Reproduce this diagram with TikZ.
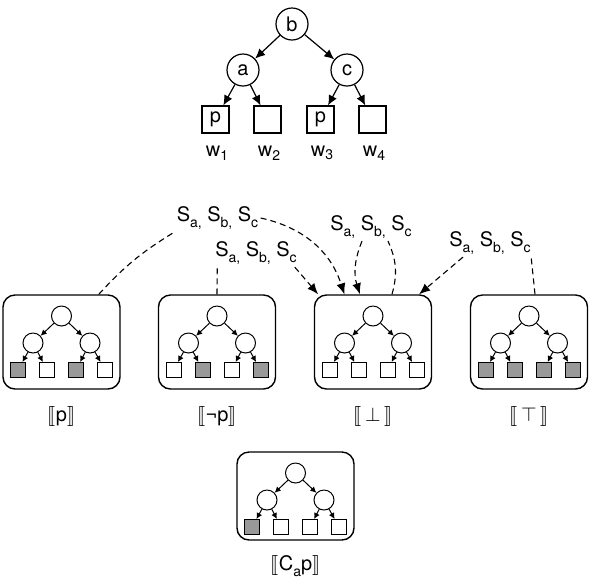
\documentclass[tikz,border=0pt]{standalone}
\usepackage{fontspec}
\setmainfont{TeX Gyre Heros}
\usepackage{stmaryrd}
\usetikzlibrary{arrows.meta}

\colorlet{truecol}{black!40}
\newcommand{\lowsub}[1]{\raisebox{-3.2pt}{\scriptsize #1}}
\newcommand{\wsub}[1]{\raisebox{-1.8pt}{\scriptsize #1}}

\tikzset{
  agent/.style={draw, circle, line width=0.6pt, minimum size=16pt, inner sep=0pt},
  world/.style={draw, line width=0.6pt, minimum size=13.5pt, inner sep=0pt},
  bigarr/.style={-{Latex[length=5pt,width=4.5pt]}, line width=0.6pt},
  kbox/.style={draw, rounded corners=6pt, line width=0.7pt, minimum width=58.5pt, inner sep=0pt},
  mcirc/.style={draw, circle, line width=0.5pt, minimum size=10pt, inner sep=0pt},
  msq/.style={draw, line width=0.5pt, minimum size=7.5pt, inner sep=0pt},
  marr/.style={-{Latex[length=3pt,width=3pt]}, line width=0.5pt},
  link/.style={dash pattern=on 3pt off 2pt, line width=0.55pt},
  linkarr/.style={link, -{Latex[length=5.5pt,width=4.5pt]}},
  slabel/.style={inner sep=1pt}
}

\begin{document}
\begin{tikzpicture}[x=0.5pt,y=-0.5pt]
\useasboundingbox (0,0) rectangle (590,586);

% the model
\node[agent] (b) at (292,24) {b};
\node[agent] (a) at (243,70) {a};
\node[agent] (c) at (347,70) {c};

\node[world] (w1) at (215.5,119.5) {p};
\node[world] (w2) at (267.5,119.5) {};
\node[world] (w3) at (320.5,119.5) {p};
\node[world] (w4) at (372.5,119.5) {};

\draw[bigarr] (b)--(a);
\draw[bigarr] (b)--(c);
\draw[bigarr] (a)--(w1);
\draw[bigarr] (a)--(w2);
\draw[bigarr] (c)--(w3);
\draw[bigarr] (c)--(w4);

\node at (217,153) {w\wsub{1}};
\node at (269,153) {w\wsub{2}};
\node at (322,153) {w\wsub{3}};
\node at (374,153) {w\wsub{4}};

% the boxes with their mini trees
\foreach \k/\cx/\ty/\h/\fa/\fb/\fc/\fd in {
  p/61.5/295/94/truecol/white/truecol/white,
  np/217/295/94/white/truecol/white/truecol,
  bot/373/295/94/white/white/white/white,
  top/529/295/94/truecol/truecol/truecol/truecol,
  cap/295.5/452/88/truecol/white/white/white}
{
  \node[kbox, minimum height=\h*0.5pt] (box\k) at (\cx,\ty+\h/2) {};
  \node[mcirc] (r\k) at (\cx,\ty+21) {};
  \node[mcirc] (l\k) at (\cx-28.5,\ty+48) {};
  \node[mcirc] (rr\k) at (\cx+28.5,\ty+48) {};
  \node[msq, fill=\fa] (s\k-1) at (\cx-43.5,\ty+75) {};
  \node[msq, fill=\fb] (s\k-2) at (\cx-14.5,\ty+75) {};
  \node[msq, fill=\fc] (s\k-3) at (\cx+14.5,\ty+75) {};
  \node[msq, fill=\fd] (s\k-4) at (\cx+43.5,\ty+75) {};
  \draw[marr] (r\k)--(l\k);
  \draw[marr] (r\k)--(rr\k);
  \draw[marr] (l\k)--(s\k-1);
  \draw[marr] (l\k)--(s\k-2);
  \draw[marr] (rr\k)--(s\k-3);
  \draw[marr] (rr\k)--(s\k-4);
}

\node (lp) at (61.5,416) {$\llbracket$p$\rrbracket$};
\node (lnp) at (217,416) {$\llbracket$¬p$\rrbracket$};
\node (lbot) at (373,416) {$\llbracket\,\bot\,\rrbracket$};
\node (ltop) at (529,416) {$\llbracket\,\top\,\rrbracket$};
\node (lcap) at (295.5,566) {$\llbracket$C\lowsub{a}p$\rrbracket$};

% update labels
\node[slabel] (sl1) at (217.5,218) {S\lowsub{a,} S\lowsub{b,} S\lowsub{c}};
\node[slabel] (sl2) at (256,253) {S\lowsub{a,} S\lowsub{b,} S\lowsub{c}};
\node[slabel] (sl3) at (371,227) {S\lowsub{a,} S\lowsub{b,} S\lowsub{c}};
\node[slabel] (sl4) at (490,243) {S\lowsub{a,} S\lowsub{b,} S\lowsub{c}};

\draw[link] (boxp.52) to[bend left=8] (sl1.south west);
\draw[linkarr] (sl1.east) to[bend left=30] (boxbot.121);

\draw[link] (boxnp.north) -- (sl2.200);
\draw[linkarr] (sl2.-20) -- (boxbot.139);

\draw[link] ([xshift=9.5pt]boxbot.north) to[bend right=20] ([xshift=8.5pt]sl3.south);
\draw[linkarr] ([xshift=-4.5pt]sl3.south) to[bend right=20] ([xshift=-6.5pt]boxbot.north);

\draw[link] ([xshift=3pt]boxtop.north) -- ([xshift=-1pt]sl4.south east);
\draw[linkarr] ([xshift=-13.5pt]sl4.south) -- (boxbot.46);

\end{tikzpicture}
\end{document}
